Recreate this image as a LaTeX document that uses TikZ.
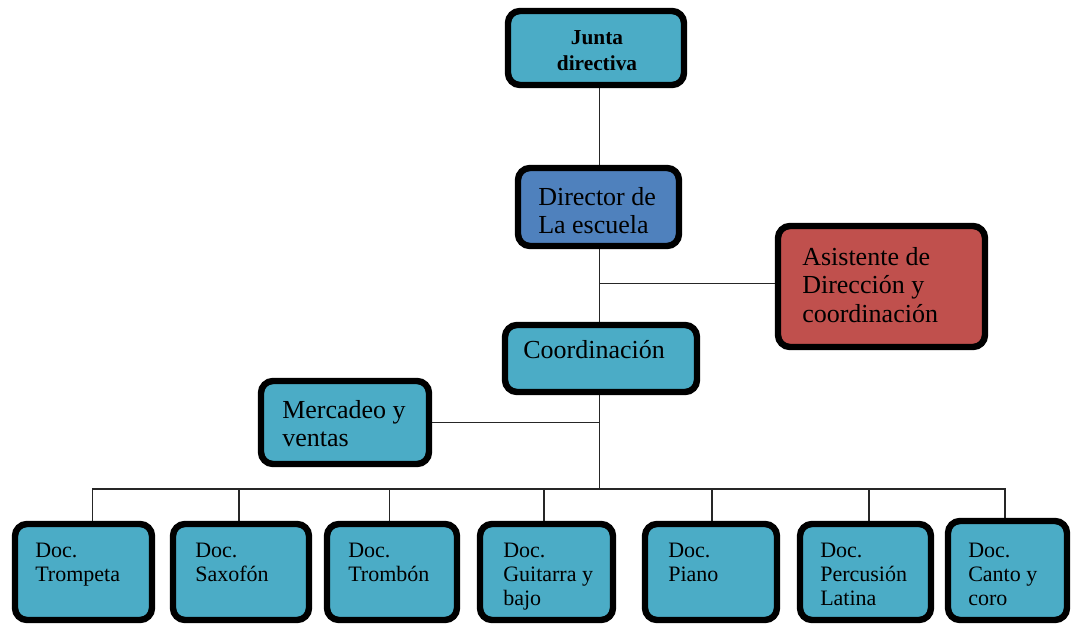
\documentclass[tikz,border=0pt]{standalone}
\usepackage{fontspec}
\setmainfont{Liberation Serif}
\usetikzlibrary{shadows,backgrounds}
\definecolor{aqua}{HTML}{4BACC6}
\definecolor{dirblue}{HTML}{4F81BD}
\definecolor{asred}{HTML}{C0504D}
\newcommand{\bigtxt}{\fontsize{19.5}{21.5}\selectfont}
\newcommand{\smalltxt}{\fontsize{16.5}{18}\selectfont}
\begin{document}
\begin{tikzpicture}[x=0.75pt,y=-0.75pt,
  box/.style={draw=black, line width=4.8pt, rounded corners=9pt, fill=aqua,
    inner sep=0pt, drop shadow={opacity=0.25, shadow xshift=1.5pt, shadow yshift=-1.5pt}},
  bottombox/.style={box, minimum height=72pt},
  txt/.style={anchor=base west, inner sep=0pt, text=black},
  conn/.style={draw=black!85, line width=0.8pt}]
\useasboundingbox (0,0) rectangle (1071,624);
% boxes
\node[box, minimum width=132pt, minimum height=55.5pt] (junta) at (596,48) {};
\node[box, fill=dirblue, minimum width=120.75pt, minimum height=58.5pt] (director) at (598.5,207) {};
\node[box, fill=asred, minimum width=155.25pt, minimum height=90.75pt] (asist) at (881.5,286.5) {};
\node[box, minimum width=144pt, minimum height=50.25pt] (coord) at (601,358.5) {};
\node[box, minimum width=126pt, minimum height=62.25pt] (merc) at (345,422.5) {};
\node[bottombox, minimum width=102.75pt] (tromp) at (83.5,572) {};
\node[bottombox, minimum width=102pt] (saxo) at (241,572) {};
\node[bottombox, minimum width=97.5pt] (tromb) at (392,572) {};
\node[bottombox, minimum width=99.75pt] (guit) at (546.5,572) {};
\node[bottombox, minimum width=99pt] (piano) at (711,572) {};
\node[bottombox, minimum width=98.25pt] (perc) at (865.5,572) {};
\node[box, minimum width=89.25pt, minimum height=74.25pt] (canto) at (1007.5,570.5) {};
% texts
\node[anchor=base, inner sep=0pt] (tjunta) at (597,45)
  {\fontsize{16}{19}\selectfont\bfseries\begin{tabular}[t]{@{}c@{}}Junta\\directiva\end{tabular}};
\node[txt] (tdirector) at (538,205) {\bigtxt\begin{tabular}[t]{@{}l@{}}Director de\\La escuela\end{tabular}};
\node[txt] (tasist) at (802,265) {\bigtxt\begin{tabular}[t]{@{}l@{}}Asistente de\\Dirección y\\coordinación\end{tabular}};
\node[txt] (tcoord) at (523,358) {\bigtxt Coordinación};
\node[txt] (tmerc) at (282,418) {\bigtxt\begin{tabular}[t]{@{}l@{}}Mercadeo y\\ventas\end{tabular}};
\node[txt] (ttromp) at (35,557) {\smalltxt\begin{tabular}[t]{@{}l@{}}Doc.\\Trompeta\end{tabular}};
\node[txt] (tsaxo) at (195,557) {\smalltxt\begin{tabular}[t]{@{}l@{}}Doc.\\Saxofón\end{tabular}};
\node[txt] (ttromb) at (348,557) {\smalltxt\begin{tabular}[t]{@{}l@{}}Doc.\\Trombón\end{tabular}};
\node[txt] (tguit) at (503,557) {\smalltxt\begin{tabular}[t]{@{}l@{}}Doc.\\Guitarra y\\bajo\end{tabular}};
\node[txt] (tpiano) at (668,557) {\smalltxt\begin{tabular}[t]{@{}l@{}}Doc.\\Piano\end{tabular}};
\node[txt] (tperc) at (820,557) {\smalltxt\begin{tabular}[t]{@{}l@{}}Doc.\\Percusión\\Latina\end{tabular}};
\node[txt] (tcanto) at (968,557) {\smalltxt\begin{tabular}[t]{@{}l@{}}Doc.\\Canto y\\coro\end{tabular}};
% connectors
\coordinate (vx) at (599.5,0);
\coordinate (hub) at (599.5,489);
\begin{scope}[on background layer]
\draw[conn] (junta.south -| vx) -- (director.north -| vx);
\draw[conn] (director.south -| vx) -- (coord.north -| vx);
\draw[conn] ([yshift=2.6pt]asist.west) -- ([yshift=2.6pt]asist.west -| vx);
\draw[conn] (merc.east) -- (merc.east -| vx);
\draw[conn] (coord.south -| vx) -- (hub);
\draw[conn] ([xshift=6.4pt]tromp.north) |- (hub);
\draw[conn] ([xshift=-1.5pt]saxo.north) |- (hub);
\draw[conn] ([xshift=-2.2pt]tromb.north) |- (hub);
\draw[conn] ([xshift=-1.9pt]guit.north) |- (hub);
\draw[conn] ([xshift=0.75pt]piano.north) |- (hub);
\draw[conn] ([xshift=2.6pt]perc.north) |- (hub);
\draw[conn] ([xshift=-1.9pt]canto.north) |- (hub);
\end{scope}
\end{tikzpicture}
\end{document}
